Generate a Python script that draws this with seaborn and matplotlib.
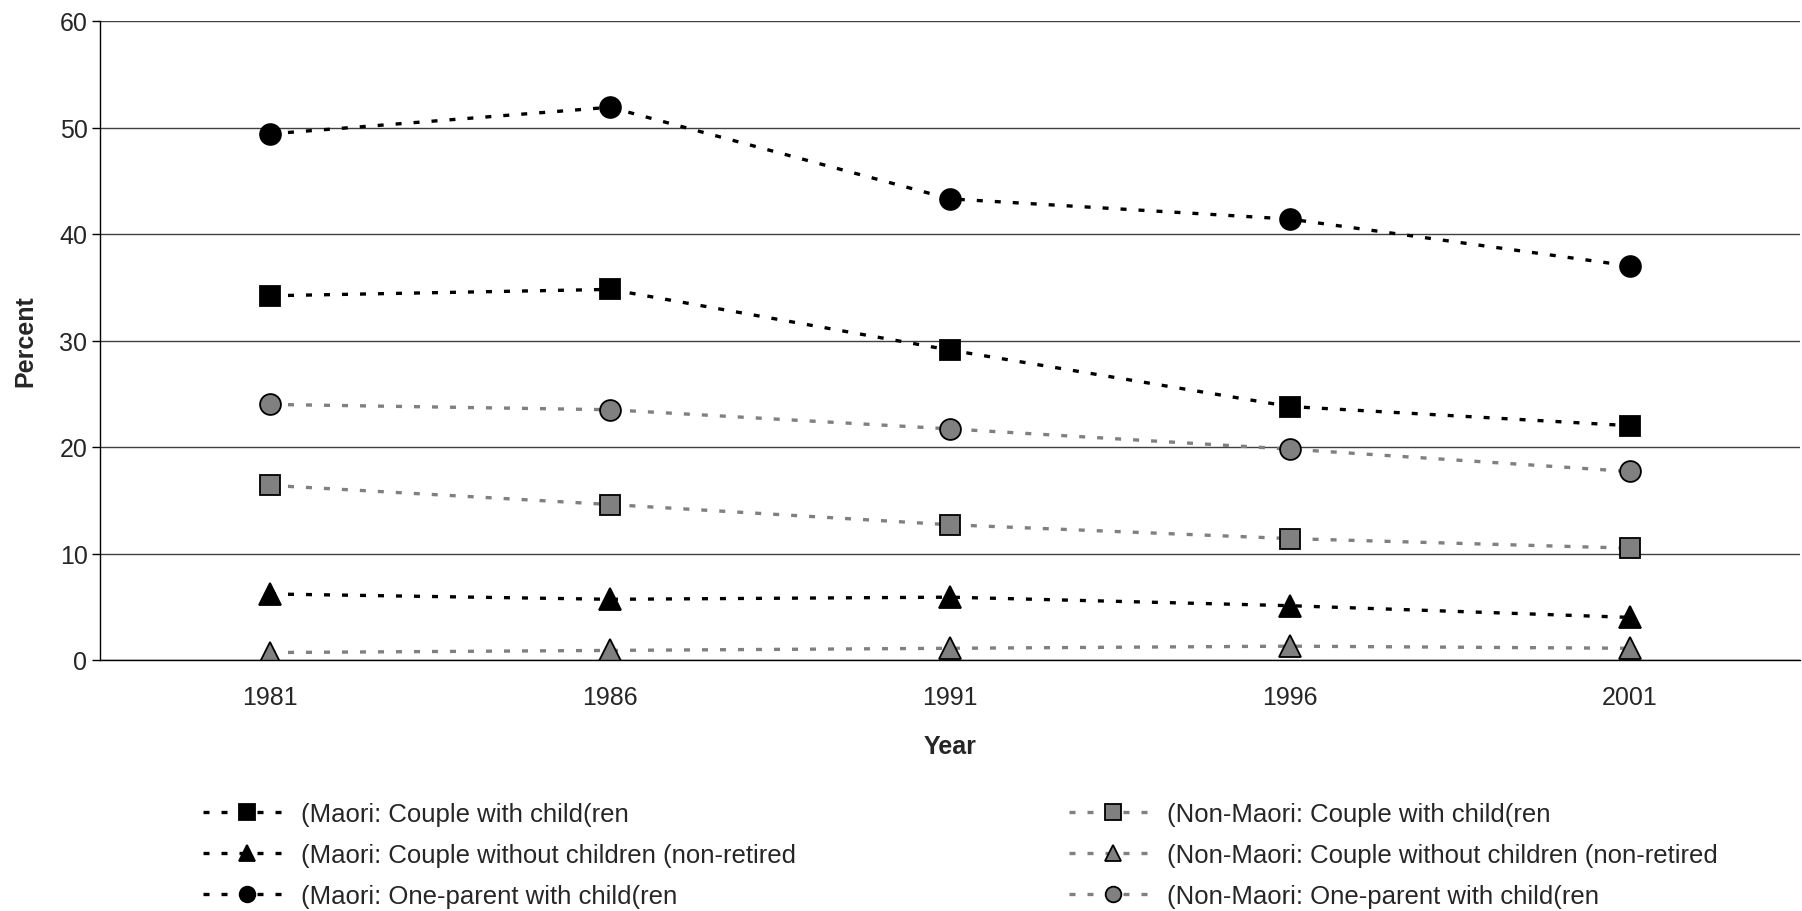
import matplotlib
matplotlib.use("Agg")
import matplotlib.pyplot as plt
import seaborn as sns
import pandas as pd

# Data
years = ["1981", "1986", "1991", "1996", "2001"]
maori_couple_child = [34.2, 34.8, 29.1, 23.8, 22.0]
maori_couple_nochild = [6.2, 5.7, 5.9, 5.1, 4.0]
maori_one_parent = [49.4, 51.9, 43.3, 41.4, 37.0]
nonmaori_couple_child = [16.4, 14.6, 12.7, 11.4, 10.5]
nonmaori_couple_nochild = [0.7, 0.9, 1.1, 1.3, 1.1]
nonmaori_one_parent = [24.0, 23.5, 21.7, 19.8, 17.7]

labels = [
    "(Maori: Couple with child(ren",
    "(Maori: Couple without children (non-retired",
    "(Maori: One-parent with child(ren",
    "(Non-Maori: Couple with child(ren",
    "(Non-Maori: Couple without children (non-retired",
    "(Non-Maori: One-parent with child(ren",
]
series = [maori_couple_child, maori_couple_nochild, maori_one_parent,
          nonmaori_couple_child, nonmaori_couple_nochild, nonmaori_one_parent]
markers = ["s", "^", "o", "s", "^", "o"]
line_colors = ["black", "black", "black", "#808080", "#808080", "#808080"]
face_colors = ["black", "black", "black", "#808080", "#808080", "#808080"]
marker_sizes = [15, 16, 15, 15, 16, 15]

sns.set_style("white")
plt.rcParams["font.family"] = ["Liberation Sans", "DejaVu Sans"]

fig = plt.figure(figsize=(18.02, 9.12), dpi=100)
ax = fig.add_axes([100 / 1802, 1 - 661 / 912, 1700 / 1802, (661 - 22) / 912])

handles = []
for vals, lab, mk, lc, fc, ms in zip(series, labels, markers, line_colors, face_colors, marker_sizes):
    df = pd.DataFrame({"Year": years, "Percent": vals})
    sns.lineplot(data=df, x="Year", y="Percent", ax=ax, color=lc, marker=mk,
                 markersize=ms, markerfacecolor=fc, markeredgecolor="black",
                 markeredgewidth=1.3, linewidth=2.4, linestyle=(0, (1.8, 3.6)),
                 label=lab, legend=False)
    handles.append(ax.lines[-1])

ax.set_xlim(-0.5, 4.5)
ax.set_ylim(0, 60)
ax.set_yticks(range(0, 61, 10))
ax.yaxis.grid(True, color="#404040", linewidth=1.0)
ax.xaxis.grid(False)
ax.set_axisbelow(True)
for s in ["top", "right"]:
    ax.spines[s].set_visible(False)
for s in ["left", "bottom"]:
    ax.spines[s].set_color("black")
    ax.spines[s].set_linewidth(1.0)
ax.tick_params(axis="y", length=6, width=1, color="black", labelsize=18, pad=3, left=True)
ax.tick_params(axis="x", length=0, labelsize=18, pad=18)
ax.set_xlabel("Year", fontsize=18, fontweight="bold", labelpad=18)
ax.set_ylabel("Percent", fontsize=18, fontweight="bold", labelpad=16)

leg_kw = dict(frameon=False, fontsize=18.5, handlelength=3.4, handletextpad=0.4,
              labelspacing=0.68, borderpad=0, borderaxespad=0, loc="center left",
              markerscale=0.75)
fig.legend(handles[:3], labels[:3], bbox_to_anchor=(203 / 1802, 1 - 856 / 912), **leg_kw)
fig.legend(handles[3:], labels[3:], bbox_to_anchor=(1069 / 1802, 1 - 856 / 912), **leg_kw)

fig.savefig("out.png", dpi=100)
